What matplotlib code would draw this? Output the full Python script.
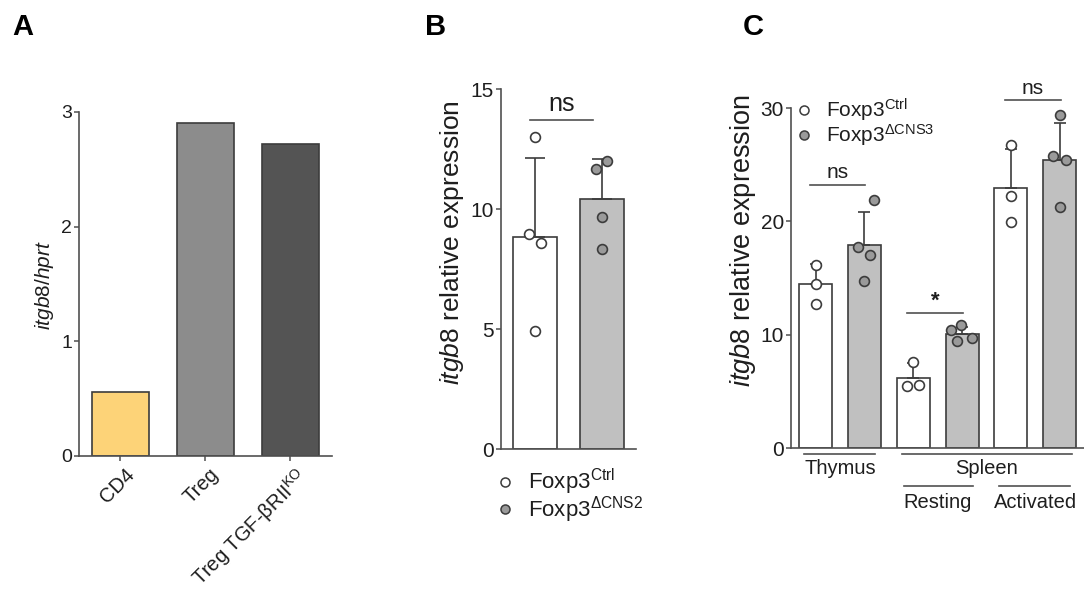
import matplotlib
matplotlib.use('Agg')
import matplotlib.pyplot as plt
from matplotlib.lines import Line2D
from matplotlib.transforms import blended_transform_factory, ScaledTranslation

plt.rcParams['font.family'] = ['Liberation Sans', 'DejaVu Sans']
plt.rcParams['mathtext.fontset'] = 'custom'
plt.rcParams['mathtext.rm'] = 'Liberation Sans'
plt.rcParams['mathtext.it'] = 'Liberation Sans:italic'
plt.rcParams['mathtext.bf'] = 'Liberation Sans:bold'

# ---------------- data ----------------
# Panel A
a_categories = ['CD4', 'Treg', 'Treg TGF-βRII$^{\\mathrm{KO}}$']
a_values = [0.56, 2.90, 2.72]
a_colors = ['#FDD378', '#8C8C8C', '#545454']
a_yticks = [0, 1, 2, 3]

# Panel B
b_labels = ['Foxp3$^{\\mathrm{Ctrl}}$', 'Foxp3$^{\\mathrm{ΔCNS2}}$']
b_means = [8.85, 10.43]
b_caps = [12.15, 12.11]
b_ctrl_points = [13.02, 8.97, 8.58, 4.94]
b_cns2_points = [12.03, 11.67, 9.69, 8.35]
b_yticks = [0, 5, 10, 15]
b_sig = 'ns'

# Panel C
c_labels = ['Foxp3$^{\\mathrm{Ctrl}}$', 'Foxp3$^{\\mathrm{ΔCNS3}}$']
c_conditions = ['Thymus', 'Resting', 'Activated']
c_ctrl_means = [14.5, 6.2, 22.95]
c_ctrl_caps = [16.28, 7.49, 26.36]
c_cns3_means = [17.89, 10.05, 25.43]
c_cns3_caps = [20.83, 10.69, 28.72]
c_ctrl_points = [[16.2, 14.48, 12.76], [7.63, 5.48, 5.59], [26.71, 22.23, 19.95]]
c_cns3_points = [[21.88, 17.71, 17.07, 14.77], [10.4, 10.89, 9.47, 9.7], [29.36, 25.78, 25.43, 21.29]]
c_sig = ['ns', '*', 'ns']
c_yticks = [0, 10, 20, 30]

# ---------------- layout helpers (positions / styles) ----------------
W, H = 1084, 589
def fx(px):
    return px / W
def fy(py):
    return 1 - py / H

EDGE = '#3c3c3c'
GRAY_BAR = '#C0C0C0'
GRAY_PT = '#9A9A9A'
TXT = '#1e1e1e'

b_ctrl_dx = [0.0, -0.085, 0.09, 0.0]
b_cns2_dx = [0.08, -0.09, 0.0, 0.0]
c_ctrl_dx = [[0, 0, 0], [0, -0.13, 0.11], [0, 0, 0]]
c_cns3_dx = [[0.2, -0.14, 0.12, 0.0], [-0.23, -0.02, -0.11, 0.2], [0.0, -0.14, 0.12, 0.0]]

fig = plt.figure(figsize=(W / 100, H / 100), dpi=100)

def style_axes(ax, labelsize):
    for s in ['top', 'right']:
        ax.spines[s].set_visible(False)
    for s in ['left', 'bottom']:
        ax.spines[s].set_color('#505050')
        ax.spines[s].set_linewidth(1.2)
    ax.tick_params(axis='both', direction='out', length=3.6, width=1.1,
                   color='#505050', labelsize=labelsize, labelcolor=TXT, pad=1.5)

# ---------------- Panel A ----------------
axA = fig.add_axes([fx(79), fy(456), fx(332) - fx(79), fy(112) - fy(456)])
xa = list(range(len(a_values)))
axA.bar(xa, a_values, width=0.67, color=a_colors, edgecolor=EDGE, linewidth=1.2, zorder=2)
axA.set_xlim(-0.488, 2.494)
axA.set_ylim(0, 3)
axA.set_yticks(a_yticks)
style_axes(axA, 14)
axA.set_xticks(xa)
axA.set_xticklabels(a_categories, rotation=45, ha='right', va='top',
                    rotation_mode='anchor', fontsize=14.5)
off = ScaledTranslation(3 / 72, -1 / 72, fig.dpi_scale_trans)
for lab in axA.get_xticklabels():
    lab.set_transform(lab.get_transform() + off)
fig.text(fx(44), fy(285), '$\\mathit{itgb8/hprt}$', rotation=90, ha='center', va='center',
         fontsize=15, color=TXT)

# ---------------- Panel B ----------------
axB = fig.add_axes([fx(500.7), fy(449.3), fx(635.7) - fx(500.7), fy(89.3) - fy(449.3)])
xb = [0, 1]
axB.bar(xb, b_means, width=0.664, color=['white', GRAY_BAR], edgecolor=EDGE, linewidth=1.2, zorder=2)
b_err = [c - m for c, m in zip(b_caps, b_means)]
axB.errorbar(xb, b_means, yerr=[[0, 0], b_err], fmt='none', ecolor=EDGE, elinewidth=1.2,
             capsize=7, capthick=1.2, zorder=3)
axB.scatter([xb[0] + d for d in b_ctrl_dx], b_ctrl_points, s=50, facecolor='white',
            edgecolor=EDGE, linewidth=1.2, zorder=4, clip_on=False)
axB.scatter([xb[1] + d for d in b_cns2_dx], b_cns2_points, s=50, facecolor=GRAY_PT,
            edgecolor=EDGE, linewidth=1.2, zorder=4, clip_on=False)
axB.set_xlim(-0.512, 1.503)
axB.set_ylim(0, 15)
axB.set_yticks(b_yticks)
axB.set_xticks([])
style_axes(axB, 15)
axB.plot([-0.075, 0.866], [13.72, 13.72], color='#505050', lw=1.2, clip_on=False)
axB.text(0.4, 13.9, b_sig, ha='center', va='bottom', fontsize=18, color=TXT)
fig.text(fx(452), fy(243), '$\\mathit{itgb8}$ relative expression', rotation=90,
         ha='center', va='center', fontsize=19, color=TXT)
hB = [Line2D([], [], marker='o', ls='none', ms=6.5, mfc='white', mec=EDGE, mew=1.1),
      Line2D([], [], marker='o', ls='none', ms=6.5, mfc=GRAY_PT, mec=EDGE, mew=1.1)]
fig.legend(hB, b_labels, loc='upper left', bbox_to_anchor=(fx(497), fy(467)),
           frameon=False, fontsize=16, handlelength=0.7, handletextpad=0.7,
           labelspacing=-0.12, borderpad=0, borderaxespad=0, labelcolor=TXT)

# ---------------- Panel C ----------------
axC = fig.add_axes([fx(791), fy(448.3), 1 - fx(791), fy(108) - fy(448.3)])
n = len(c_conditions)
x_ctrl = [2 * i for i in range(n)]
x_cns3 = [2 * i + 1 for i in range(n)]
axC.bar(x_ctrl, c_ctrl_means, width=0.68, color='white', edgecolor=EDGE, linewidth=1.2, zorder=2)
axC.bar(x_cns3, c_cns3_means, width=0.68, color=GRAY_BAR, edgecolor=EDGE, linewidth=1.2, zorder=2)
axC.errorbar(x_ctrl, c_ctrl_means, yerr=[[0] * n, [c - m for c, m in zip(c_ctrl_caps, c_ctrl_means)]],
             fmt='none', ecolor=EDGE, elinewidth=1.2, capsize=4.5, capthick=1.2, zorder=3)
axC.errorbar(x_cns3, c_cns3_means, yerr=[[0] * n, [c - m for c, m in zip(c_cns3_caps, c_cns3_means)]],
             fmt='none', ecolor=EDGE, elinewidth=1.2, capsize=4.5, capthick=1.2, zorder=3)
for i in range(n):
    axC.scatter([x_ctrl[i] + d for d in c_ctrl_dx[i]], c_ctrl_points[i], s=50, facecolor='white',
                edgecolor=EDGE, linewidth=1.2, zorder=4, clip_on=False)
    axC.scatter([x_cns3[i] + d for d in c_cns3_dx[i]], c_cns3_points[i], s=50, facecolor=GRAY_PT,
                edgecolor=EDGE, linewidth=1.2, zorder=4, clip_on=False)
axC.set_xlim(-0.506, 5.498)
axC.set_ylim(0, 30)
axC.set_yticks(c_yticks)
axC.set_xticks([])
style_axes(axC, 15)
sig_y = [23.22, 11.94, 30.67]
for i in range(n):
    axC.plot([x_ctrl[i] - 0.12, x_cns3[i] + 0.02], [sig_y[i], sig_y[i]], color='#505050', lw=1.2,
             clip_on=False)
    if c_sig[i] == '*':
        axC.text(x_ctrl[i] + 0.45, sig_y[i] + 0.1, c_sig[i], ha='center', va='bottom', fontsize=16,
                 fontweight='bold', color=TXT)
    else:
        axC.text(x_ctrl[i] + 0.45, sig_y[i] + 0.25, c_sig[i], ha='center', va='bottom', fontsize=15,
                 color=TXT)
fig.text(fx(743), fy(241), '$\\mathit{itgb8}$ relative expression', rotation=90,
         ha='center', va='center', fontsize=19.5, color=TXT)
hC = [Line2D([], [], marker='o', ls='none', ms=6.5, mfc='white', mec=EDGE, mew=1.1),
      Line2D([], [], marker='o', ls='none', ms=6.5, mfc=GRAY_PT, mec=EDGE, mew=1.1)]
fig.legend(hC, c_labels, loc='upper left', bbox_to_anchor=(fx(797), fy(97)),
           frameon=False, fontsize=15, handlelength=0.7, handletextpad=0.7,
           labelspacing=-0.08, borderpad=0, borderaxespad=0, labelcolor=TXT)

# group annotations under panel C
tr = blended_transform_factory(axC.transData, fig.transFigure)
axC.plot([-0.23, 1.21], [fy(454), fy(454)], transform=tr, color='#505050', lw=1.2, clip_on=False)
axC.text(0.5, fy(469), c_conditions[0], transform=tr, ha='center', va='center', fontsize=14.5, color=TXT)
axC.plot([1.76, 5.25], [fy(454), fy(454)], transform=tr, color='#505050', lw=1.2, clip_on=False)
axC.text(3.5, fy(469), 'Spleen', transform=tr, ha='center', va='center', fontsize=14.5, color=TXT)
axC.plot([1.8, 3.23], [fy(486), fy(486)], transform=tr, color='#505050', lw=1.2, clip_on=False)
axC.text(2.5, fy(502), c_conditions[1], transform=tr, ha='center', va='center', fontsize=14.5, color=TXT)
axC.plot([3.76, 5.21], [fy(486), fy(486)], transform=tr, color='#505050', lw=1.2, clip_on=False)
axC.text(4.5, fy(502), c_conditions[2], transform=tr, ha='center', va='center', fontsize=14.5, color=TXT)

# panel letters
for letter, px in [('A', 12), ('B', 425), ('C', 743)]:
    fig.text(fx(px), fy(27), letter, ha='left', va='center', fontsize=21, fontweight='bold', color='black')

fig.savefig('out.png', dpi=100)
